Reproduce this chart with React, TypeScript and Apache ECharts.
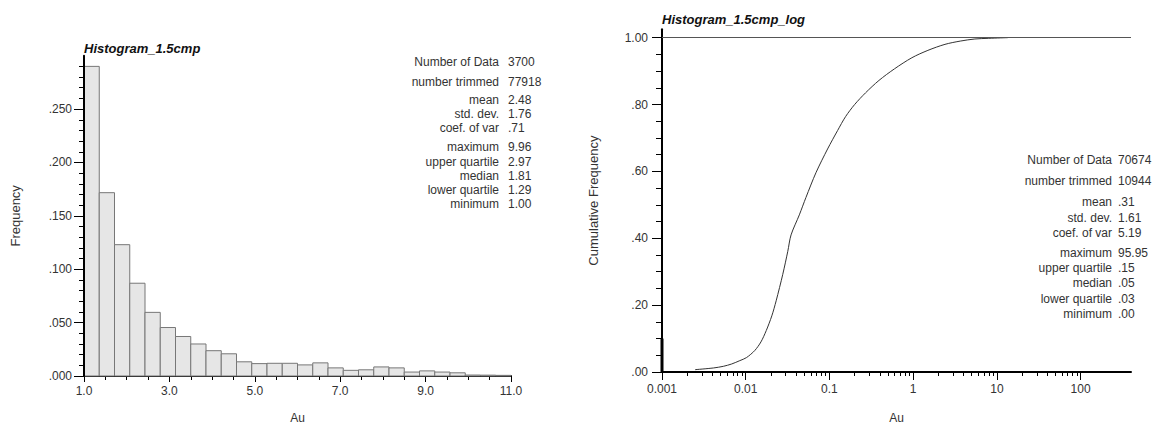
import React, { useEffect, useRef } from "react";
import * as echarts from "echarts";

// ---------- data: left histogram ----------
const HIST_TITLE = "Histogram_1.5cmp";
const HIST_MIN = 1.0;
const HIST_MAX = 11.0;
const HIST_BIN_COUNT = 28;
const HIST_FREQ = [
  0.29, 0.1717, 0.123, 0.0869, 0.0596, 0.0454, 0.037, 0.03, 0.0237, 0.0208,
  0.0133, 0.0116, 0.0119, 0.0119, 0.0104, 0.0123, 0.0076, 0.0053, 0.0058, 0.0085,
  0.0076, 0.0037, 0.0048, 0.0037, 0.003, 0.0009, 0.0008, 0.0006,
];
const HIST_Y_LABELS = [0, 0.05, 0.1, 0.15, 0.2, 0.25];
const HIST_STAT_LABELS = [
  "Number of Data", "number trimmed", "mean", "std. dev.", "coef. of var",
  "maximum", "upper quartile", "median", "lower quartile", "minimum",
];
const HIST_STAT_VALUES = ["3700", "77918", "2.48", "1.76", ".71", "9.96", "2.97", "1.81", "1.29", "1.00"];

// ---------- data: right cumulative (log) ----------
const CDF_TITLE = "Histogram_1.5cmp_log";
const CDF_X = [
  0.00248, 0.0041, 0.0054, 0.0068, 0.0085, 0.0102, 0.0128, 0.0152, 0.0176, 0.0205,
  0.0231, 0.0277, 0.0318, 0.0348, 0.0437, 0.0524, 0.069, 0.095, 0.125, 0.156,
  0.2, 0.27, 0.39, 0.6, 0.966, 1.5, 2.4, 3.7, 5.46, 8, 13.5,
];
const CDF_Y = [
  0.007, 0.012, 0.017, 0.024, 0.034, 0.043, 0.064, 0.09, 0.124, 0.168,
  0.213, 0.292, 0.361, 0.41, 0.47, 0.522, 0.596, 0.667, 0.722, 0.764,
  0.8, 0.835, 0.872, 0.907, 0.94, 0.962, 0.98, 0.99, 0.996, 0.998, 1.0,
];
const CDF_MIN_X = 0.001;
const CDF_MIN_SPIKE = [0, 0.1];
const CDF_X_MIN = 0.001;
const CDF_X_MAX = 400;
const CDF_X_DECADES = [0.001, 0.01, 0.1, 1, 10, 100];
const CDF_X_MINOR_MULT = [2, 3, 4, 5, 6, 7, 8, 9];
const CDF_Y_LABELS = [0, 0.2, 0.4, 0.6, 0.8, 1.0];
const CDF_Y_MINOR = [0.05, 0.1, 0.15, 0.25, 0.3, 0.35, 0.45, 0.5, 0.55, 0.65, 0.7, 0.75, 0.85, 0.9, 0.95];
const CDF_STAT_LABELS = [
  "Number of Data", "number trimmed", "mean", "std. dev.", "coef. of var",
  "maximum", "upper quartile", "median", "lower quartile", "minimum",
];
const CDF_STAT_VALUES = ["70674", "10944", ".31", "1.61", "5.19", "95.95", ".15", ".05", ".03", ".00"];

// ---------- layout ----------
const FONT = '"Liberation Sans", Arial, sans-serif';
const HIST_STAT_ROWS_Y = [62, 81.5, 100, 114, 128.3, 147.3, 161.7, 175.7, 190, 204];
const CDF_STAT_ROWS_Y = [160, 181, 202, 217.5, 232.5, 252.5, 268.3, 283.3, 298.5, 314];

function statTexts(labels: string[], values: string[], rows: number[], labelRight: number, valueLeft: number) {
  const out: any[] = [];
  labels.forEach((l, i) => {
    out.push({
      type: "text", x: labelRight, y: rows[i],
      style: { text: l, align: "right", verticalAlign: "middle", font: `12px ${FONT}`, fill: "#333" },
    });
    out.push({
      type: "text", x: valueLeft, y: rows[i],
      style: { text: values[i], align: "left", verticalAlign: "middle", font: `12px ${FONT}`, fill: "#333" },
    });
  });
  return out;
}

const axisLineBlack = { show: true, onZero: false, lineStyle: { color: "#000", width: 2 } };
const labelStyle = { color: "#333", fontSize: 12, fontFamily: FONT };

function buildOption() {
  const binW = (HIST_MAX - HIST_MIN) / HIST_BIN_COUNT;
  const histData = HIST_FREQ.map((f, i) => [HIST_MIN + i * binW, HIST_MIN + (i + 1) * binW, f]);
  const cdfData = CDF_X.map((x, i) => [x, CDF_Y[i]]);
  const minorX: number[] = [];
  CDF_X_DECADES.forEach((d) => {
    CDF_X_MINOR_MULT.forEach((m) => {
      const v = d * m;
      if (v < 100) minorX.push(v);
    });
  });

  return {
    animation: false,
    backgroundColor: "#ffffff",
    textStyle: { fontFamily: FONT },
    title: [
      {
        text: HIST_TITLE, left: 84, top: 42, padding: 0,
        textStyle: { fontSize: 13, fontWeight: "bold", fontStyle: "italic", color: "#111", fontFamily: FONT },
      },
      {
        text: CDF_TITLE, left: 662, top: 13, padding: 0,
        textStyle: { fontSize: 13, fontWeight: "bold", fontStyle: "italic", color: "#111", fontFamily: FONT },
      },
    ],
    grid: [
      { left: 84, top: 55.7, width: 427, height: 321.6, containLabel: false },
      { left: 662, top: 29.3, width: 469, height: 345.7, containLabel: false },
    ],
    xAxis: [
      {
        gridIndex: 0, type: "value", min: HIST_MIN, max: HIST_MAX, interval: 2, position: "bottom",
        axisLine: axisLineBlack,
        axisTick: { show: true, length: 6, lineStyle: { color: "#000", width: 1 } },
        minorTick: { show: true, splitNumber: 4, length: 4, lineStyle: { color: "#000", width: 1 } },
        axisLabel: { ...labelStyle, margin: 9, formatter: (v: number) => v.toFixed(1) },
        splitLine: { show: false }, minorSplitLine: { show: false },
        name: "Au", nameLocation: "middle", nameGap: 36,
        nameTextStyle: { ...labelStyle, fontSize: 12 },
      },
      {
        gridIndex: 1, type: "log", logBase: 10, min: CDF_X_MIN, max: CDF_X_MAX, position: "bottom",
        axisLine: axisLineBlack,
        axisTick: { show: true, length: 8, customValues: CDF_X_DECADES, lineStyle: { color: "#000", width: 1 } },
        axisLabel: { ...labelStyle, margin: 11, customValues: CDF_X_DECADES, formatter: (v: number) => String(v) },
        splitLine: { show: false },
        name: "Au", nameLocation: "middle", nameGap: 40,
        nameTextStyle: { ...labelStyle, fontSize: 12 },
      },
      {
        gridIndex: 1, type: "log", logBase: 10, min: CDF_X_MIN, max: CDF_X_MAX, position: "bottom",
        axisLine: { show: false, onZero: false },
        axisTick: { show: true, length: 4, customValues: minorX, lineStyle: { color: "#000", width: 1 } },
        axisLabel: { show: false },
        splitLine: { show: false },
      },
    ],
    yAxis: [
      {
        gridIndex: 0, type: "value", min: 0, max: 0.3, interval: 0.05, position: "left", z: 5,
        axisLine: axisLineBlack,
        axisTick: { show: true, length: 10, customValues: HIST_Y_LABELS, lineStyle: { color: "#000", width: 1 } },
        minorTick: { show: true, splitNumber: 5, length: 5, lineStyle: { color: "#000", width: 1 } },
        axisLabel: {
          ...labelStyle, margin: 12, customValues: HIST_Y_LABELS, padding: [0, 0, 8, 0],
          formatter: (v: number) => v.toFixed(3).replace(/^0/, ""),
        },
        splitLine: { show: false }, minorSplitLine: { show: false },
        name: "Frequency", nameLocation: "middle", nameGap: 62,
        nameTextStyle: { ...labelStyle, fontSize: 13 },
      },
      {
        gridIndex: 1, type: "value", min: 0, max: 1.025, position: "left",
        axisLine: axisLineBlack,
        axisTick: { show: true, length: 10, customValues: CDF_Y_LABELS, lineStyle: { color: "#000", width: 1 } },
        axisLabel: {
          ...labelStyle, margin: 14, customValues: CDF_Y_LABELS, padding: [0, 0, 8, 0],
          formatter: (v: number) => (v >= 1 ? v.toFixed(2) : v.toFixed(2).replace(/^0/, "")),
        },
        splitLine: { show: false },
        name: "Cumulative Frequency", nameLocation: "middle", nameGap: 62,
        nameTextStyle: { ...labelStyle, fontSize: 13 },
      },
      {
        gridIndex: 1, type: "value", min: 0, max: 1.025, position: "left",
        axisLine: { show: false, onZero: false },
        axisTick: { show: true, length: 6, customValues: CDF_Y_MINOR, lineStyle: { color: "#000", width: 1 } },
        axisLabel: { show: false },
        splitLine: { show: false },
      },
    ],
    series: [
      {
        type: "custom", name: "Frequency", xAxisIndex: 0, yAxisIndex: 0,
        encode: { x: [0, 1], y: 2 },
        data: histData,
        renderItem: (params: any, api: any) => {
          const p0 = api.coord([api.value(0), api.value(2)]);
          const p1 = api.coord([api.value(1), 0]);
          return {
            type: "rect",
            shape: { x: p0[0], y: p0[1], width: p1[0] - p0[0], height: p1[1] - p0[1] },
            style: { fill: "#e6e6e6", stroke: "#777", lineWidth: 1 },
          };
        },
      },
      {
        type: "line", name: "Cumulative", xAxisIndex: 1, yAxisIndex: 1,
        data: cdfData, showSymbol: false, smooth: 0.3,
        lineStyle: { color: "#333", width: 1 },
        markLine: {
          silent: true, symbol: ["none", "none"], label: { show: false },
          lineStyle: { color: "#555", width: 1, type: "solid" },
          data: [{ yAxis: 1 }],
        },
      },
      {
        type: "line", name: "Minimum", xAxisIndex: 1, yAxisIndex: 1, clip: false,
        data: CDF_MIN_SPIKE.map((y) => [CDF_MIN_X, y]), showSymbol: false,
        lineStyle: { color: "#000", width: 3 }, z: 6,
      },
    ],
    graphic: [
      ...statTexts(HIST_STAT_LABELS, HIST_STAT_VALUES, HIST_STAT_ROWS_Y, 499, 508),
      ...statTexts(CDF_STAT_LABELS, CDF_STAT_VALUES, CDF_STAT_ROWS_Y, 1112, 1118),
    ],
  };
}

export default function App() {
  const ref = useRef<HTMLDivElement | null>(null);
  useEffect(() => {
    if (!ref.current) return;
    const chart = echarts.init(ref.current, undefined, { renderer: "svg" });
    chart.setOption(buildOption() as any);
    return () => chart.dispose();
  }, []);
  return (
    <div
      ref={ref}
      style={{ position: "fixed", left: 0, top: 0, width: 1162, height: 429, background: "#fff" }}
    />
  );
}
